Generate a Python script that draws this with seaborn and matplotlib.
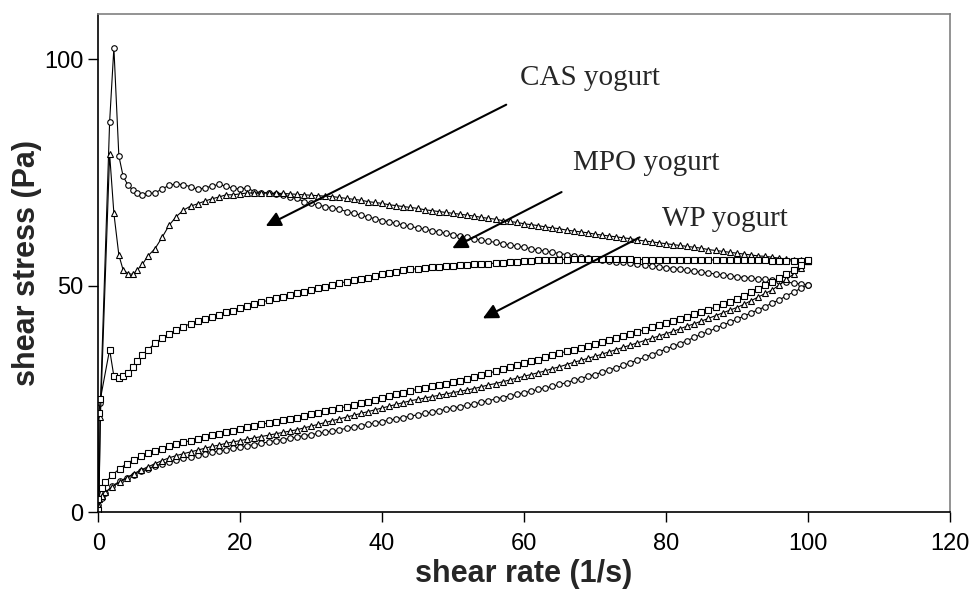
import matplotlib
matplotlib.use("Agg")
import matplotlib.pyplot as plt
import seaborn as sns
import pandas as pd

# shear-rate ramp (1/s): up ramp then down ramp
up_rate = [0, 0.1, 0.3, 1.6, 2.2, 2.9, 3.5, 4.2, 4.9, 5.5, 6.2] + list(range(7, 101))
down_rate = list(range(100, 0, -1)) + [0.5, 0]

# shear stress (Pa), up ramp
cas_up = [0.5, 3, 24, 86.2, 102.6, 78.7, 74.2, 72.2, 71.1, 70.5, 70.1,
          70.4, 70.5, 71.4, 72.2, 72.5, 72.3, 71.9, 71.3, 71.6, 72.0,
          72.4, 72.0, 71.5, 71.4, 71.6, 70.8, 70.6, 70.5, 70.3, 70.0,
          69.7, 69.3, 68.6, 68.2, 67.8, 67.5, 67.2, 66.9, 66.4, 66.0,
          65.6, 65.2, 64.8, 64.4, 64.1, 63.8, 63.4, 63.1, 62.8, 62.5,
          62.2, 61.9, 61.6, 61.3, 61.0, 60.7, 60.4, 60.1, 59.8, 59.6,
          59.3, 59.0, 58.8, 58.5, 58.2, 57.9, 57.7, 57.4, 57.1, 56.9,
          56.6, 56.3, 56.1, 55.9, 55.7, 55.5, 55.3, 55.2, 55.0, 54.8,
          54.6, 54.4, 54.2, 54.0, 53.8, 53.6, 53.4, 53.2, 53.0, 52.8,
          52.6, 52.4, 52.2, 52.0, 51.8, 51.7, 51.5, 51.4, 51.2, 51.0,
          50.8, 50.6, 50.4, 50.2]
mpo_up = [0.5, 3, 21, 79.1, 66.0, 56.8, 53.5, 52.7, 52.5, 53.5, 54.7,
          56.6, 58.2, 60.7, 63.4, 65.3, 66.7, 67.6, 68.1, 68.7, 69.2,
          69.6, 70.1, 70.1, 70.3, 70.5, 70.5, 70.5, 70.5, 70.4, 70.4,
          70.3, 70.2, 70.1, 70.0, 69.9, 69.8, 69.7, 69.5, 69.3, 69.1,
          68.9, 68.6, 68.4, 68.2, 67.9, 67.7, 67.5, 67.3, 67.1, 66.8,
          66.6, 66.4, 66.2, 66.0, 65.8, 65.6, 65.4, 65.1, 64.9, 64.7,
          64.4, 64.2, 64.0, 63.7, 63.5, 63.3, 63.0, 62.8, 62.6, 62.3,
          62.1, 61.9, 61.7, 61.4, 61.2, 61.0, 60.8, 60.6, 60.4, 60.1,
          59.9, 59.7, 59.5, 59.3, 59.1, 58.9, 58.7, 58.5, 58.3, 58.0,
          57.8, 57.6, 57.4, 57.2, 57.0, 56.8, 56.6, 56.5, 56.3, 56.1,
          55.9, 55.8, 55.6, 55.5]
wp_up = [0.5, 22, 25, 35.9, 30.0, 29.7, 30.0, 30.8, 32.1, 33.4, 34.7,
         35.9, 37.3, 38.5, 39.4, 40.2, 41.0, 41.6, 42.2, 42.7, 43.2,
         43.6, 44.1, 44.5, 45.0, 45.5, 46.0, 46.4, 46.8, 47.2, 47.5,
         47.9, 48.3, 48.6, 49.0, 49.4, 49.8, 50.2, 50.6, 50.9, 51.2,
         51.5, 51.8, 52.1, 52.5, 52.8, 53.1, 53.4, 53.6, 53.8, 54.0,
         54.1, 54.2, 54.3, 54.4, 54.5, 54.6, 54.7, 54.8, 54.9, 55.0,
         55.1, 55.2, 55.3, 55.4, 55.5, 55.6, 55.7, 55.7, 55.8, 55.8,
         55.9, 55.9, 55.9, 55.9, 55.9, 55.9, 55.9, 55.9, 55.9, 55.8,
         55.8, 55.8, 55.8, 55.8, 55.8, 55.8, 55.7, 55.7, 55.7, 55.7,
         55.7, 55.7, 55.7, 55.6, 55.6, 55.6, 55.6, 55.6, 55.5, 55.5,
         55.5, 55.5, 55.5, 55.5]

# shear stress (Pa), down ramp
cas_down = [50.1, 49.4, 48.6, 47.8, 46.9, 46.2, 45.4, 44.7, 44.0, 43.3,
            42.6, 41.9, 41.3, 40.6, 39.9, 39.3, 38.6, 37.9, 37.2, 36.6,
            36.0, 35.4, 34.8, 34.2, 33.6, 33.0, 32.4, 31.9, 31.4, 30.9,
            30.4, 30.0, 29.5, 29.1, 28.6, 28.2, 27.8, 27.4, 27.1, 26.7,
            26.4, 26.0, 25.7, 25.3, 25.0, 24.6, 24.3, 23.9, 23.6, 23.3,
            23.0, 22.7, 22.4, 22.1, 21.8, 21.5, 21.2, 20.9, 20.6, 20.3,
            20.0, 19.7, 19.4, 19.1, 18.8, 18.5, 18.2, 17.9, 17.7, 17.4,
            17.1, 16.9, 16.6, 16.3, 16.0, 15.8, 15.5, 15.2, 14.9, 14.7,
            14.4, 14.1, 13.8, 13.5, 13.2, 12.9, 12.6, 12.2, 11.9, 11.5,
            11.1, 10.7, 10.2, 9.6, 9.0, 8.3, 7.6, 6.8, 5.8, 4.3,
            3.2, 1.5]
mpo_down = [55.5, 54.0, 52.6, 51.4, 50.2, 49.1, 48.3, 47.5, 46.7, 45.9,
            45.2, 44.6, 44.0, 43.4, 42.8, 42.2, 41.6, 41.1, 40.5, 39.9,
            39.4, 38.9, 38.4, 37.9, 37.4, 36.9, 36.4, 35.9, 35.4, 34.9,
            34.4, 34.0, 33.5, 33.1, 32.6, 32.1, 31.7, 31.2, 30.8, 30.4,
            30.0, 29.6, 29.2, 28.8, 28.4, 28.1, 27.7, 27.3, 27.0, 26.7,
            26.4, 26.1, 25.8, 25.5, 25.2, 24.9, 24.6, 24.2, 23.8, 23.4,
            23.0, 22.6, 22.2, 21.8, 21.4, 21.0, 20.6, 20.2, 19.8, 19.4,
            19.0, 18.6, 18.2, 17.9, 17.6, 17.3, 17.0, 16.7, 16.4, 16.1,
            15.8, 15.5, 15.2, 14.8, 14.5, 14.1, 13.7, 13.3, 12.9, 12.5,
            12.0, 11.4, 10.7, 10.0, 9.3, 8.5, 7.6, 6.6, 5.6, 4.4,
            3.5, 1.5]
wp_down = [55.6, 54.5, 53.5, 52.6, 51.7, 50.9, 50.1, 49.3, 48.6, 47.8,
           47.1, 46.5, 45.9, 45.3, 44.7, 44.2, 43.7, 43.2, 42.7, 42.2,
           41.8, 41.3, 40.8, 40.3, 39.8, 39.3, 38.9, 38.4, 38.0, 37.6,
           37.1, 36.7, 36.3, 35.9, 35.5, 35.1, 34.6, 34.2, 33.7, 33.3,
           32.9, 32.4, 32.0, 31.6, 31.1, 30.7, 30.2, 29.8, 29.4, 29.0,
           28.7, 28.4, 28.1, 27.8, 27.4, 27.1, 26.8, 26.4, 26.0, 25.6,
           25.2, 24.8, 24.4, 24.0, 23.7, 23.3, 23.0, 22.6, 22.3, 21.9,
           21.6, 21.2, 20.9, 20.6, 20.3, 20.0, 19.7, 19.4, 19.0, 18.7,
           18.4, 18.0, 17.7, 17.3, 17.0, 16.6, 16.2, 15.8, 15.4, 15.0,
           14.5, 14.0, 13.5, 13.0, 12.3, 11.6, 10.7, 9.6, 8.2, 6.6,
           5.4, 3.0]

samples = ["CAS yogurt", "MPO yogurt", "WP yogurt"]
marker_for = {"CAS yogurt": "o", "MPO yogurt": "^", "WP yogurt": "s"}
up_data = {"CAS yogurt": cas_up, "MPO yogurt": mpo_up, "WP yogurt": wp_up}
down_data = {"CAS yogurt": cas_down, "MPO yogurt": mpo_down, "WP yogurt": wp_down}

# label text position and arrow (tail -> head), data coords
label_pos = {"CAS yogurt": (59.4, 96.0), "MPO yogurt": (66.9, 77.1), "WP yogurt": (79.4, 64.7)}
arrow_tail = {"CAS yogurt": (57.5, 90.0), "MPO yogurt": (65.3, 70.7), "WP yogurt": (76.3, 60.7)}
arrow_head = {"CAS yogurt": (23.6, 63.2), "MPO yogurt": (49.9, 58.3), "WP yogurt": (54.2, 42.8)}

sns.set_style("ticks")
plt.rcParams["font.family"] = ["Liberation Sans", "DejaVu Sans"]

fig, ax = plt.subplots(figsize=(9.73, 5.90), dpi=100)
fig.subplots_adjust(left=0.101, right=0.976, bottom=0.132, top=0.976)

for name in samples:
    df = pd.DataFrame({
        "rate": up_rate + down_rate,
        "stress": up_data[name] + down_data[name],
    })
    sns.lineplot(data=df, x="rate", y="stress", sort=False, estimator=None,
                 color="black", linewidth=0.8, marker=marker_for[name],
                 markersize=4, markerfacecolor="white",
                 markeredgecolor="black", markeredgewidth=0.8, ax=ax)

for name in samples:
    ax.annotate("", xy=arrow_head[name], xytext=arrow_tail[name],
                arrowprops=dict(arrowstyle="-|>,head_length=0.9,head_width=0.45",
                                color="black", lw=1.5, shrinkA=0, shrinkB=0))
    ax.text(*label_pos[name], name, fontsize=21, family="Liberation Serif",
            ha="left", va="center")

ax.set_xlim(0, 120)
ax.set_ylim(0, 110)
ax.set_xticks([0, 20, 40, 60, 80, 100, 120])
ax.set_yticks([0, 50, 100])
ax.tick_params(direction="out", length=7, width=1, labelsize=17, colors="black")
ax.tick_params(axis="x", pad=8)
ax.set_xlabel("shear rate (1/s)", fontsize=22, fontweight="bold", labelpad=3)
ax.set_ylabel("shear stress (Pa)", fontsize=22, fontweight="bold", labelpad=2)

for side in ["left", "bottom"]:
    ax.spines[side].set_color("black")
    ax.spines[side].set_linewidth(1.2)
for side in ["top", "right"]:
    ax.spines[side].set_visible(True)
    ax.spines[side].set_color("#808080")
    ax.spines[side].set_linewidth(1.2)

fig.savefig("out.png", dpi=100)
